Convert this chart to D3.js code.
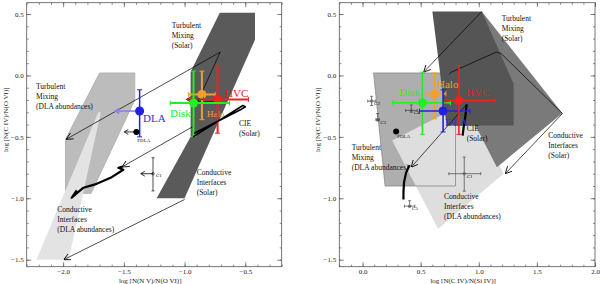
<!DOCTYPE html>
<html>
<head>
<meta charset="utf-8">
<script src="https://cdn.jsdelivr.net/npm/d3@7"></script>
<style>
  body { margin: 0; background: #fff; }
  svg { display: block; }
  text { font-family: "Liberation Serif", "DejaVu Serif", serif; }
</style>
</head>
<body>
<div id="chart"></div>
<script>
// ---- data ----
const yTicks = [-1.5, -1.0, -0.5, 0.0, 0.5];
const leftXTicks = [-2.0, -1.5, -1.0, -0.5];
const rightXTicks = [0.0, 0.5, 1.0, 1.5, 2.0];

// model regions, left panel: N V/O VI vs C IV/O VI
const leftTmDla = [[-1.70, 0.02], [-1.41, 0.02], [-1.41, -0.20], [-1.77, -0.96], [-1.98, -0.96], [-1.98, -0.52]];
const leftCiDla = [[-2.22, -1.5], [-1.955, -1.5], [-1.69, -0.30], [-1.71, -0.30]];
const leftSolar = [[-0.71, 0.51], [-0.42, 0.51], [-0.42, 0.29], [-1.0, -1.0], [-1.23, -1.0], [-0.95, -0.50], [-0.95, 0.03]];

// model regions, right panel: C IV/Si IV vs C IV/O VI
const rightTmDla = [[0.095, 0.02], [0.80, 0.02], [0.80, -0.90], [0.194, -0.90]];
const rightCiDla = [[0.255, -0.53], [0.925, -0.204], [1.213, -0.80], [0.65, -1.248]];
const rightCiSolar = [[1.026, 0.52], [1.719, -0.307], [1.156, -0.747], [0.795, -0.081]];
const rightTmSolar = [[0.601, 0.52], [1.026, 0.52], [1.30, -0.068], [1.30, -0.407], [0.723, -0.407]];

// model tracks
const leftArrows = [
  [[-0.706, 0.19], [-1.975, -0.52]],
  [[-0.92, -0.41], [-1.515, -0.745]],
  [[-1.0, -1.01], [-1.995, -1.5]]
];
const leftTmSolarTrack = [[-0.706, 0.19], [-0.89, -0.21], [-0.75, -0.21]];
const leftCieTrack = [[-0.93, -0.50], [-0.52, -0.245], [-0.50, -0.255], [-0.54, -0.28], [-0.92, -0.47]];
const leftCiDlaTrack = [[-1.51, -0.741], [-1.545, -0.752], [-1.504, -0.768], [-1.60, -0.828], [-1.737, -0.887], [-1.833, -0.914], [-1.93, -0.996], [-1.888, -0.936]];

const rightArrows = [
  [[1.026, 0.52], [0.526, 0.027]],
  [[1.72, -0.31], [1.228, -0.80]],
  [[0.896, -0.236], [0.419, -0.747]]
];
const rightTmSolarTrack = [[0.745, 0.008], [0.76, 0.025], [1.15, 0.19], [1.19, 0.18], [1.72, -0.31]];
const rightCieTrack = [[0.896, -0.236], [0.885, -0.33], [0.87, -0.42], [0.861, -0.49]];
const rightCiDlaTrack = [[0.405, -0.73], [0.375, -0.79], [0.357, -0.87], [0.352, -0.95], [0.352, -1.01]];

// measurements: [name, x, y, xlo, xhi, ylo, yhi]
const leftSamples = [
  ["Halo", -0.857, -0.155, -0.967, -0.748, -0.36, 0.035],
  ["HVC", -0.728, -0.195, -0.844, -0.474, -0.47, 0.08],
  ["Disk", -0.926, -0.225, -1.118, -0.63, -0.497, 0.035],
  ["DLA", -1.37, -0.29, null, null, -0.50, -0.117]
];
const leftBlack = [["PDLA", -1.397, -0.46, -1.496], ["C1", -1.26, -0.80, -1.36]];
const leftC1Bar = [-0.94, -0.67];

const rightSamples = [
  ["Halo", 0.621, -0.149, 0.54, 0.717, -0.353, 0.019],
  ["Disk", 0.515, -0.222, 0.26, 0.757, -0.48, 0.027],
  ["DLA", 0.693, -0.29, 0.49, 0.925, -0.46, -0.117],
  ["HVC", 0.829, -0.204, 0.717, 1.141, -0.48, 0.081]
];
// small sightlines: [name, x, y, xlo, xhi, ylo, yhi]
const rightSight = [
  ["C1", 0.875, -0.80, 0.743, 1.017, -0.942, -0.665],
  ["C2", 0.078, -0.209, 0.045, 0.11, -0.245, -0.17],
  ["C3", 0.13, -0.36, 0.115, 0.145, -0.37, -0.31],
  ["C4", 0.419, -0.285, 0.37, 0.47, -0.30, -0.24],
  ["C5", 0.405, -1.064, 0.36, 0.45, -1.07, -1.02]
];
const rightBlack = [["PDLA", 0.289, -0.456]];

const colors = { Disk: "#22ee22", Halo: "#f0a030", HVC: "#ee2222", DLA: "#2222dd" };

// ---- layout ----
const W = 600, H = 284;
const svg = d3.select("#chart").append("svg").attr("width", W).attr("height", H);

svg.append("defs").append("marker")
  .attr("id", "arr").attr("viewBox", "0 0 10 10")
  .attr("refX", 10).attr("refY", 5)
  .attr("markerWidth", 7).attr("markerHeight", 7)
  .attr("markerUnits", "userSpaceOnUse")
  .attr("orient", "auto")
  .append("path").attr("d", "M0,0 L10,5 L0,10")
  .attr("fill", "none").attr("stroke", "#000").attr("stroke-width", 1.2);

function makePanel(x0, x1, xDomain) {
  const x = d3.scaleLinear().domain(xDomain).range([x0, x1]);
  const y = d3.scaleLinear().domain([-1.557, 0.592]).range([266.7, 2.7]);
  return { x, y, g: svg.append("g") };
}

function axes(p, xTicks, xTitle) {
  const { x, y, g } = p;
  const [xa, xb] = x.domain(), [ya, yb] = y.domain();
  const xMinor = d3.range(Math.ceil(xa * 10), Math.floor(xb * 10) + 1).map(d => d / 10);
  const yMinor = d3.range(Math.ceil(ya * 10), Math.floor(yb * 10) + 1).map(d => d / 10);
  const fmt = d3.format(".1f");
  const [yTop, yBot] = [y.range()[1], y.range()[0]];
  const [xl, xr] = x.range();

  const add = (axis, tr, vals, size, labels, pad) => {
    const a = g.append("g").attr("transform", tr)
      .call(axis.tickValues(vals).tickSize(size).tickPadding(pad || 3)
        .tickFormat(labels ? fmt : ""));
    a.select(".domain").remove();
    a.selectAll("line").attr("stroke", "#555").attr("stroke-width", 0.7);
    a.selectAll("text").attr("font-size", 7).attr("fill", "#222")
      .attr("font-family", "'Liberation Serif', serif");
    return a;
  };
  add(d3.axisBottom(x), `translate(0,${yBot})`, xMinor, -2, false);
  add(d3.axisBottom(x), `translate(0,${yBot})`, xTicks, -4.5, true, 2);
  add(d3.axisTop(x), `translate(0,${yTop})`, xMinor, -2, false);
  add(d3.axisTop(x), `translate(0,${yTop})`, xTicks, -4.5, false);
  add(d3.axisLeft(y), `translate(${xl},0)`, yMinor, -2, false);
  add(d3.axisLeft(y), `translate(${xl},0)`, yTicks, -4.5, true, 3);
  add(d3.axisRight(y), `translate(${xr},0)`, yMinor, -2, false);
  add(d3.axisRight(y), `translate(${xr},0)`, yTicks, -4.5, false);

  g.append("rect")
    .attr("x", xl).attr("y", yTop)
    .attr("width", xr - xl).attr("height", yBot - yTop)
    .attr("fill", "none").attr("stroke", "#555").attr("stroke-width", 0.8);

  g.append("text")
    .attr("x", (xl + xr) / 2 - 4).attr("y", 282.5)
    .attr("text-anchor", "middle").attr("font-size", 7).attr("fill", "#222")
    .text(xTitle);
  g.append("text")
    .attr("transform", `translate(${xl - 19},${(yTop + yBot) / 2 - 15}) rotate(-90)`)
    .attr("text-anchor", "middle").attr("font-size", 7).attr("fill", "#222")
    .text("log [N(C IV)/N(O VI)]");
}

function poly(p, pts, fill, stroke) {
  p.g.append("path")
    .attr("d", d3.line().x(d => p.x(d[0])).y(d => p.y(d[1]))(pts) + "Z")
    .attr("fill", fill).attr("stroke", stroke || "none").attr("stroke-width", 0.8);
}

function track(p, pts, width, arrow) {
  const path = p.g.append("path")
    .attr("d", d3.line().x(d => p.x(d[0])).y(d => p.y(d[1]))(pts))
    .attr("fill", "none").attr("stroke", "#000")
    .attr("stroke-width", width).attr("stroke-linejoin", "round");
  if (arrow) path.attr("marker-end", "url(#arr)");
}

function label(p, lines, px, py, size) {
  lines.forEach((t, i) => {
    p.g.append("text").attr("x", px).attr("y", py + i * 10)
      .attr("font-size", size || 7.5).attr("fill", "#111").text(t);
  });
}

function errBar(p, s, width, r) {
  const [name, cx, cy, xlo, xhi, ylo, yhi] = s;
  const c = colors[name];
  const g = p.g.append("g").attr("stroke", c).attr("stroke-width", width);
  if (xlo != null) {
    g.append("line").attr("x1", p.x(xlo)).attr("x2", p.x(xhi)).attr("y1", p.y(cy)).attr("y2", p.y(cy));
    [xlo, xhi].forEach(v => g.append("line").attr("x1", p.x(v)).attr("x2", p.x(v))
      .attr("y1", p.y(cy) - 2.5).attr("y2", p.y(cy) + 2.5).attr("stroke-width", 1));
  }
  g.append("line").attr("x1", p.x(cx)).attr("x2", p.x(cx)).attr("y1", p.y(ylo)).attr("y2", p.y(yhi));
  [ylo, yhi].forEach(v => g.append("line").attr("y1", p.y(v)).attr("y2", p.y(v))
    .attr("x1", p.x(cx) - 2.5).attr("x2", p.x(cx) + 2.5).attr("stroke-width", 1));
  p.g.append("circle").attr("cx", p.x(cx)).attr("cy", p.y(cy)).attr("r", r).attr("fill", c);
}

function limitArrow(p, cx, cy, xEnd, color, width) {
  const X = p.x(xEnd), Y = p.y(cy);
  p.g.append("line").attr("x1", p.x(cx)).attr("x2", X).attr("y1", Y).attr("y2", Y)
    .attr("stroke", color).attr("stroke-width", width);
  p.g.append("path").attr("d", `M${X + 4},${Y - 2.5} L${X},${Y} L${X + 4},${Y + 2.5}`)
    .attr("fill", "none").attr("stroke", color).attr("stroke-width", width);
}

function coloredText(p, t, px, py, c, size) {
  p.g.append("text").attr("x", px).attr("y", py).attr("font-size", size || 11)
    .attr("fill", c).text(t);
}

// ---- left panel ----
const L = makePanel(26.7, 281.7, [-2.3, -0.2]);
poly(L, leftTmDla, "#bcbcbc", "#aaa");
poly(L, leftCiDla, "#e3e3e3");
poly(L, leftSolar, "#5a5a5a");

label(L, ["Turbulent", "Mixing", "(DLA abundances)"], 36, 89);
label(L, ["Turbulent", "Mixing", "(Solar)"], 171.7, 28);
label(L, ["Conductive", "Interfaces", "(Solar)"], 196.7, 175);
label(L, ["Conductive", "Interfaces", "(DLA abundances)"], 57.3, 212);
label(L, ["CIE", "(Solar)"], 239, 126);

coloredText(L, "Halo", L.x(-0.815), L.y(-0.34), "#e8a040", 9);
leftArrows.forEach(a => track(L, a, 0.7, true));
track(L, leftTmSolarTrack, 0.7, false);

errBar(L, leftSamples[0], 2, 4.5);
limitArrow(L, -0.844, -0.195, -0.98, "#aa2222", 1.6);
errBar(L, leftSamples[1], 2, 4.5);
errBar(L, leftSamples[2], 2, 4.5);
limitArrow(L, -1.37, -0.29, -1.57, "#8a80f0", 1.6);
errBar(L, leftSamples[3], 1.5, 4.5);
track(L, leftCieTrack, 1.6, false);
track(L, leftCiDlaTrack, 2.2, false);

L.g.append("line").attr("stroke", "#222").attr("stroke-width", 0.8)
  .attr("x1", L.x(-1.26)).attr("x2", L.x(-1.26))
  .attr("y1", L.y(leftC1Bar[0])).attr("y2", L.y(leftC1Bar[1]));
leftC1Bar.forEach(v => L.g.append("line").attr("stroke", "#222")
  .attr("stroke-width", 0.8).attr("x1", L.x(-1.26) - 1.5).attr("x2", L.x(-1.26) + 1.5)
  .attr("y1", L.y(v)).attr("y2", L.y(v)));
leftBlack.forEach(b => limitArrow(L, b[1], b[2], b[3], "#000", 0.8));
L.g.append("circle").attr("cx", L.x(-1.397)).attr("cy", L.y(-0.46)).attr("r", 3).attr("fill", "#000");
L.g.append("circle").attr("cx", L.x(-1.26)).attr("cy", L.y(-0.80)).attr("r", 1.3).attr("fill", "none").attr("stroke", "#000").attr("stroke-width", 0.6);
label(L, ["PDLA"], L.x(-1.397) + 1, L.y(-0.46) + 10, 5);
label(L, ["C1"], L.x(-1.26) + 3, L.y(-0.80) + 3, 5);

coloredText(L, "DLA", 143, 122, "#3333cc");
coloredText(L, "HVC", 225, 97, "#dd2222");
coloredText(L, "Disk", 170, 117, "#22ee22");
axes(L, leftXTicks, "log [N(N V)/N(O VI)]");

// ---- right panel ----
const R = makePanel(339.3, 595, [-0.2, 2.0]);
poly(R, rightTmDla, "#aeaeae");
poly(R, rightCiDla, "#dedede");
poly(R, rightTmDla, "none", "#888");
poly(R, rightCiSolar, "#7a7a7a");
poly(R, rightTmSolar, "#555555");

label(R, ["Turbulent", "Mixing", "(Solar)"], 501.7, 21);
label(R, ["Conductive", "Interfaces", "(Solar)"], 548.3, 138);
label(R, ["Turbulent", "Mixing", "(DLA abundances)"], 351.7, 150);
label(R, ["Conductive", "Interfaces", "(DLA abundances)"], 444, 199);
label(R, ["CIE", "(Solar)"], 466.7, 131);

rightArrows.forEach(a => track(R, a, 0.7, true));
track(R, rightTmSolarTrack, 0.7, false);
track(R, rightCieTrack, 2.2, false);
track(R, rightCiDlaTrack, 2.2, false);

rightSight.forEach(s => {
  const [name, cx, cy, xlo, xhi, ylo, yhi] = s;
  const g = R.g.append("g").attr("stroke", "#444").attr("stroke-width", 0.7);
  g.append("line").attr("x1", R.x(xlo)).attr("x2", R.x(xhi)).attr("y1", R.y(cy)).attr("y2", R.y(cy));
  g.append("line").attr("x1", R.x(cx)).attr("x2", R.x(cx)).attr("y1", R.y(ylo)).attr("y2", R.y(yhi));
  [xlo, xhi].forEach(v => g.append("line").attr("x1", R.x(v)).attr("x2", R.x(v))
    .attr("y1", R.y(cy) - 1.5).attr("y2", R.y(cy) + 1.5));
  [ylo, yhi].forEach(v => g.append("line").attr("y1", R.y(v)).attr("y2", R.y(v))
    .attr("x1", R.x(cx) - 1.5).attr("x2", R.x(cx) + 1.5));
  R.g.append("circle").attr("cx", R.x(cx)).attr("cy", R.y(cy)).attr("r", 1.3)
    .attr("fill", "none").attr("stroke", "#444").attr("stroke-width", 0.6);
  label(R, [name], R.x(cx) + 2.5, R.y(cy) + 4, 5);
});

rightBlack.forEach(b => {
  R.g.append("circle").attr("cx", R.x(b[1])).attr("cy", R.y(b[2])).attr("r", 3).attr("fill", "#000");
  label(R, [b[0]], R.x(b[1]) + 1, R.y(b[2]) + 7, 5);
});

rightSamples.forEach(s => errBar(R, s, 1.6, 4.5));
coloredText(R, "Disk", 399, 96, "#22ee22");
coloredText(R, "Halo", 437, 88, "#f0a030");
coloredText(R, "HVC", 466, 96, "#dd2222");
coloredText(R, "DLA", 445, 126, "#3333cc");
axes(R, rightXTicks, "log [N(C IV)/N(Si IV)]");
</script>
</body>
</html>
